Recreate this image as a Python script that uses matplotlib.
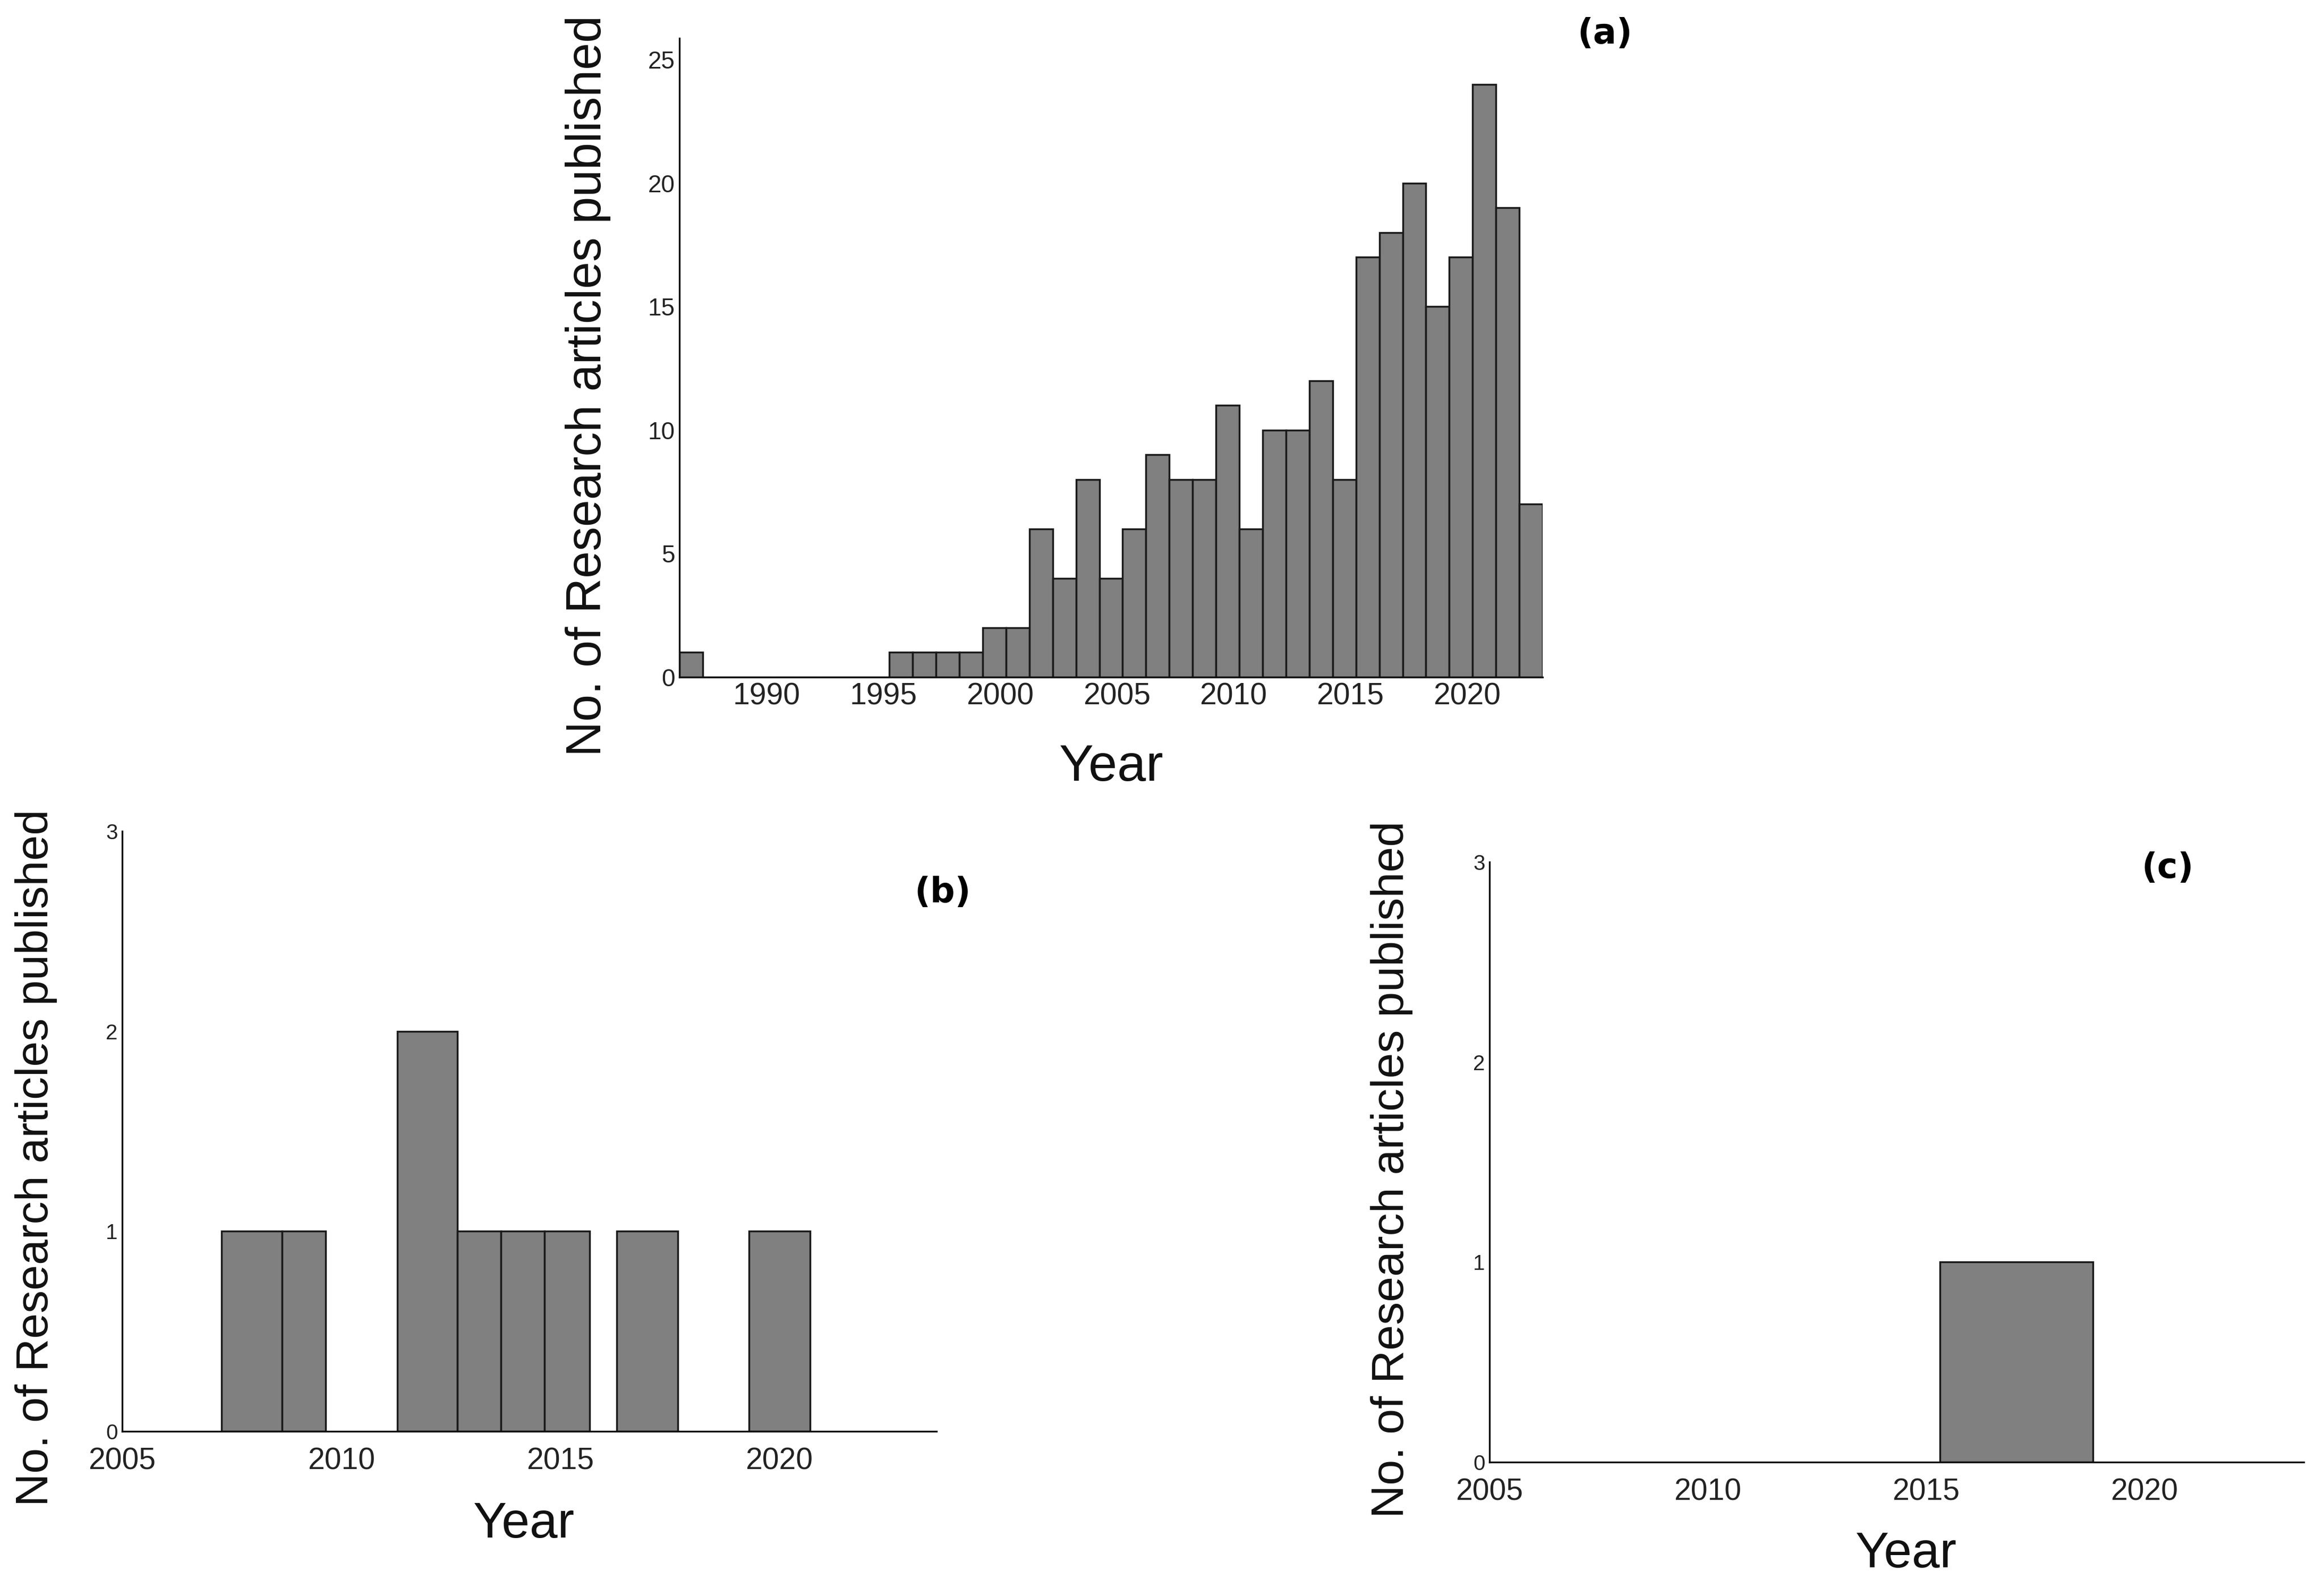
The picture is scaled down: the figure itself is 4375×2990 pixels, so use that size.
import matplotlib
matplotlib.use("Agg")
import matplotlib.pyplot as plt

# ── Data ──────────────────────────────────────────────────────────────────────
# (a) articles per year, one bin per year
a_years = list(range(1986, 2023))
a_counts = [1, 0, 0, 0, 0, 0, 0, 0, 0,
            1, 1, 1, 1, 2, 2, 6, 4, 8, 4, 6, 9, 8, 8, 11, 6,
            10, 10, 12, 8, 17, 18, 20, 15, 17, 24, 19, 7]
a_xticks = [1990, 1995, 2000, 2005, 2010, 2015, 2020]
a_yticks = [0, 5, 10, 15, 20, 25]

# (b) histogram bins (year edges) and counts
b_left = [2007.27, 2008.65, 2011.28, 2012.66, 2013.65, 2014.65, 2016.29, 2019.31]
b_right = [2008.65, 2009.65, 2012.66, 2013.65, 2014.65, 2015.68, 2017.69, 2020.71]
b_counts = [1, 1, 2, 1, 1, 1, 1, 1]

# (c) histogram bins (year edges) and counts
c_left = [2015.32]
c_right = [2018.82]
c_counts = [1]

bc_xticks = [2005, 2010, 2015, 2020]
bc_yticks = [0, 1, 2, 3]

YLABEL = "No. of Research articles published"
XLABEL = "Year"

FONT = "Liberation Sans"
BAR = "#808080"
EDGE = "#1a1a1a"
TXT = "#222222"

plt.rcParams["font.family"] = [FONT, "DejaVu Sans"]

W, H = 4375, 2990
fig = plt.figure(figsize=(W / 100, H / 100), dpi=100)


def style(ax, ytick_size, xpad):
    for s in ("top", "right"):
        ax.spines[s].set_visible(False)
    for s in ("left", "bottom"):
        ax.spines[s].set_linewidth(2.4)
        ax.spines[s].set_color("#111111")
    ax.tick_params(axis="both", length=0)
    ax.tick_params(axis="x", labelsize=41, pad=xpad, colors=TXT)
    ax.tick_params(axis="y", labelsize=ytick_size, pad=6, colors=TXT)
    ax.set_facecolor("white")


# ── (a) ───────────────────────────────────────────────────────────────────────
ax_a = fig.add_axes([0.2923, 0.5736, 0.3715, 0.4023])
ax_a.bar([y + 0.25 for y in a_years], a_counts, width=1.0, align="edge",
         color=BAR, edgecolor=EDGE, linewidth=2.5)
ax_a.set_xlim(1986.25, 2023.25)
ax_a.set_ylim(0, 25.86)
ax_a.set_xticks(a_xticks)
ax_a.set_yticks(a_yticks)
style(ax_a, 33, 7)

# ── (b) ───────────────────────────────────────────────────────────────────────
ax_b = fig.add_axes([0.05257, 0.09866, 0.35043, 0.37794])
ax_b.bar(b_left, b_counts, width=[r - l for l, r in zip(b_left, b_right)],
         align="edge", color=BAR, edgecolor=EDGE, linewidth=2.5)
ax_b.set_xlim(2005, 2023.6)
ax_b.set_ylim(0, 3)
ax_b.set_xticks(bc_xticks)
ax_b.set_yticks(bc_yticks)
style(ax_b, 29, 21)

# ── (c) ───────────────────────────────────────────────────────────────────────
ax_c = fig.add_axes([0.6409, 0.0793, 0.3504, 0.3779])
ax_c.bar(c_left, c_counts, width=[r - l for l, r in zip(c_left, c_right)],
         align="edge", color=BAR, edgecolor=EDGE, linewidth=2.5)
ax_c.set_xlim(2005, 2023.65)
ax_c.set_ylim(0, 3)
ax_c.set_xticks(bc_xticks)
ax_c.set_yticks(bc_yticks)
style(ax_c, 29, 21)

# ── axis titles and panel letters ─────────────────────────────────────────────
fig.text(0.2530, 0.7569, YLABEL, rotation=90, ha="center", va="center",
         fontsize=66, color="#111111")
fig.text(0.01554, 0.2709, YLABEL, rotation=90, ha="center", va="center",
         fontsize=62, color="#111111")
fig.text(0.5989, 0.2635, YLABEL, rotation=90, ha="center", va="center",
         fontsize=62, color="#111111")

fig.text(0.4782, 0.5167, XLABEL, ha="center", va="center", fontsize=70,
         color="#111111")
fig.text(0.2254, 0.0401, XLABEL, ha="center", va="center", fontsize=68,
         color="#111111")
fig.text(0.8203, 0.0211, XLABEL, ha="center", va="center", fontsize=68,
         color="#111111")

for x, y, lab in [(0.6905, 0.9786, "(a)"), (0.4055, 0.4378, "(b)"),
                  (0.9328, 0.4532, "(c)")]:
    fig.text(x, y, lab, ha="center", va="center", fontsize=47,
             fontweight="heavy", family="DejaVu Sans", color="black")

fig.savefig("out.png", dpi=100, facecolor="white")
